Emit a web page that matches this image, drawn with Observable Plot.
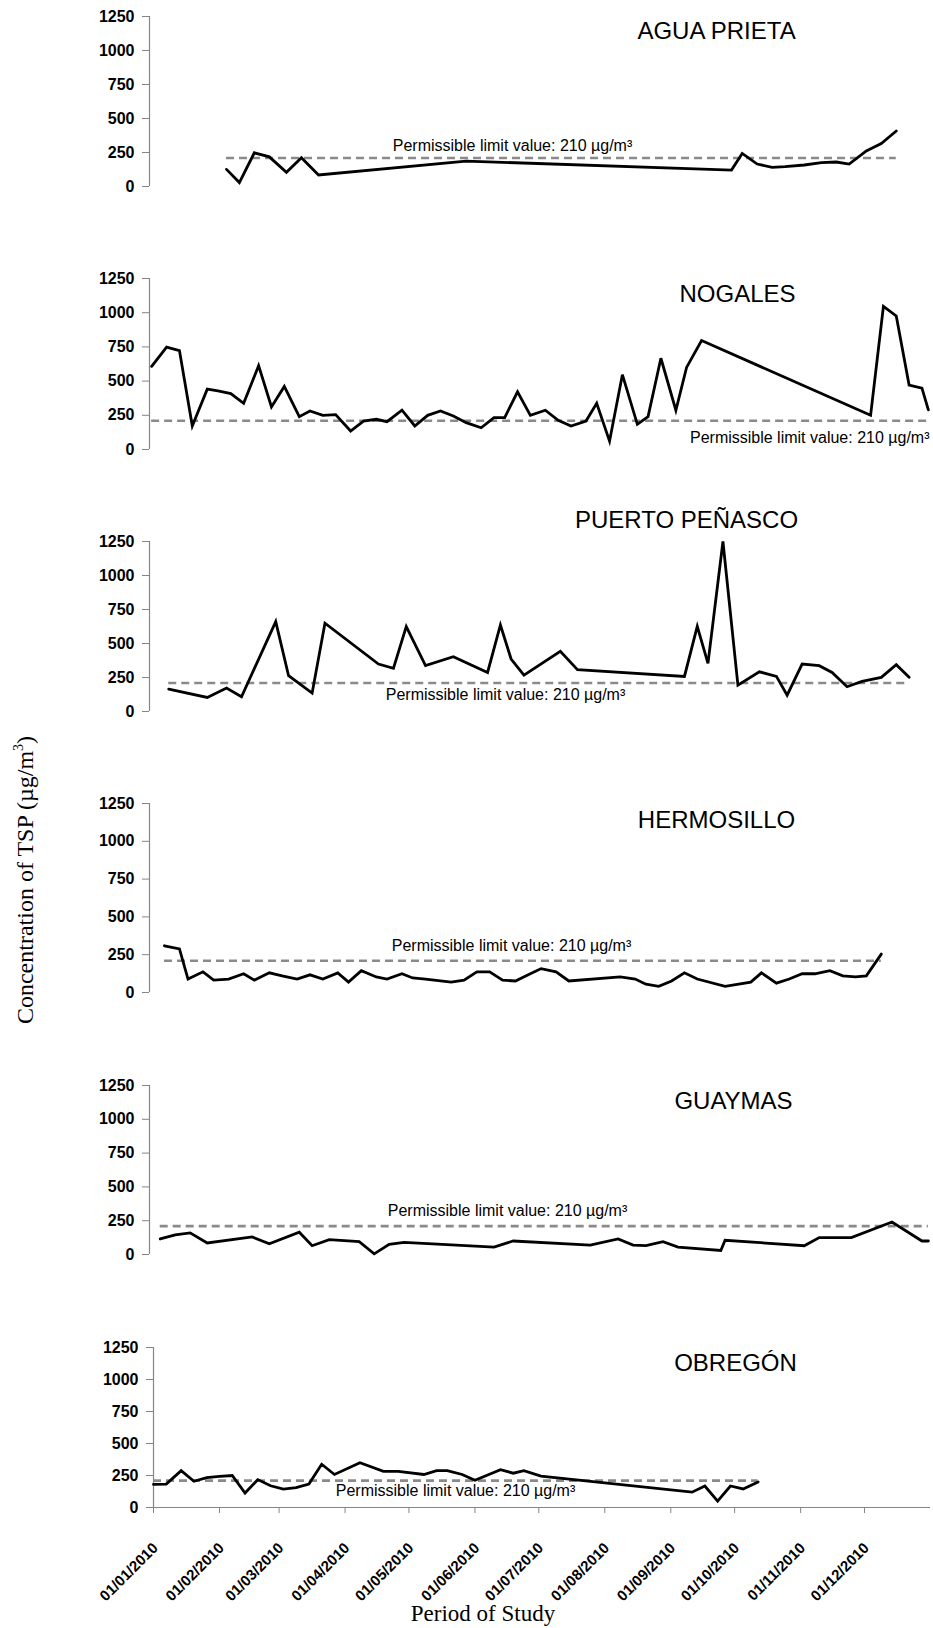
<!DOCTYPE html>
<html><head><meta charset="utf-8">
<script src="https://cdn.jsdelivr.net/npm/d3@7"></script>
<script src="https://cdn.jsdelivr.net/npm/@observablehq/plot@0.6"></script>
<style>
body{margin:0;background:#fff;}
#wrap{position:relative;width:933px;height:1628px;overflow:hidden;background:#fff;}
#wrap svg{position:absolute;left:0;overflow:visible;}
.ttl{position:absolute;font-family:"Liberation Serif","Times New Roman",serif;color:#000;white-space:nowrap;}
</style></head>
<body><div id="wrap"></div>
<script>
// ---------------- DATA ----------------
const cityNames = ["AGUA PRIETA","NOGALES","PUERTO PEÑASCO","HERMOSILLO","GUAYMAS","OBREGÓN"];
const limitValue = 210;
const limitLabel = "Permissible limit value: 210 µg/m³";
const yTicks = [0,250,500,750,1000,1250];
const xTicks = ["2010-01-01","2010-02-01","2010-03-01","2010-04-01","2010-05-01","2010-06-01","2010-07-01","2010-08-01","2010-09-01","2010-10-01","2010-11-01","2010-12-01"];
const xDomain = ["2010-01-01","2011-01-01"];

const aguaPrietaDates = ["2010-02-06","2010-02-12","2010-02-19","2010-02-26","2010-03-06","2010-03-13","2010-03-21","2010-05-29","2010-09-30","2010-10-05","2010-10-12","2010-10-19","2010-10-25","2010-11-03","2010-11-11","2010-11-18","2010-11-24","2010-12-02","2010-12-09","2010-12-16"];
const aguaPrietaTSP = [126,29,248,218,104,211,85,187,121,243,165,141,146,158,175,180,165,262,316,408];

const nogalesDates = ["2010-01-02","2010-01-09","2010-01-15","2010-01-21","2010-01-28","2010-02-02","2010-02-08","2010-02-14","2010-02-21","2010-02-27","2010-03-05","2010-03-12","2010-03-17","2010-03-23","2010-03-29","2010-04-05","2010-04-11","2010-04-17","2010-04-22","2010-04-29","2010-05-05","2010-05-11","2010-05-17","2010-05-23","2010-05-29","2010-06-05","2010-06-11","2010-06-16","2010-06-22","2010-06-28","2010-07-05","2010-07-11","2010-07-17","2010-07-24","2010-07-29","2010-08-04","2010-08-10","2010-08-17","2010-08-22","2010-08-28","2010-09-04","2010-09-09","2010-09-16","2010-12-04","2010-12-10","2010-12-16","2010-12-22","2010-12-28","2010-12-31"];
const nogalesTSP = [608,748,723,172,441,429,409,338,613,311,461,240,282,250,255,135,208,221,203,287,172,250,282,245,196,159,233,233,422,250,287,213,172,208,338,61,547,184,240,667,287,600,797,250,1047,976,471,449,290];

const puertoDates = ["2010-01-10","2010-01-28","2010-02-06","2010-02-13","2010-03-01","2010-03-07","2010-03-18","2010-03-24","2010-04-18","2010-04-25","2010-05-01","2010-05-10","2010-05-23","2010-06-08","2010-06-14","2010-06-19","2010-06-25","2010-07-12","2010-07-20","2010-09-08","2010-09-14","2010-09-19","2010-09-26","2010-10-03","2010-10-13","2010-10-21","2010-10-26","2010-11-02","2010-11-10","2010-11-16","2010-11-23","2010-11-30","2010-12-09","2010-12-16","2010-12-22"];
const puertoTSP = [165,103,172,108,661,263,135,649,349,317,624,337,403,287,636,386,268,442,307,258,626,354,1250,194,292,258,120,349,337,287,182,221,251,344,251];

const hermosilloDates = ["2010-01-08","2010-01-15","2010-01-19","2010-01-26","2010-01-31","2010-02-07","2010-02-14","2010-02-19","2010-02-26","2010-03-04","2010-03-11","2010-03-17","2010-03-23","2010-03-30","2010-04-04","2010-04-10","2010-04-17","2010-04-22","2010-04-29","2010-05-04","2010-05-10","2010-05-22","2010-05-28","2010-06-03","2010-06-09","2010-06-15","2010-06-21","2010-06-28","2010-07-03","2010-07-10","2010-07-16","2010-08-09","2010-08-16","2010-08-21","2010-08-27","2010-09-02","2010-09-08","2010-09-14","2010-09-27","2010-10-09","2010-10-14","2010-10-21","2010-10-27","2010-11-02","2010-11-08","2010-11-15","2010-11-21","2010-11-27","2010-12-02","2010-12-09"];
const hermosilloTSP = [309,288,89,137,82,89,124,82,130,110,89,117,89,130,69,144,103,89,124,96,89,69,82,137,137,82,76,124,158,137,76,103,89,55,41,76,130,89,41,69,130,62,89,124,124,144,110,103,110,254];

const guaymasDates = ["2010-01-06","2010-01-13","2010-01-20","2010-01-28","2010-02-18","2010-02-26","2010-03-12","2010-03-18","2010-03-26","2010-04-09","2010-04-16","2010-04-23","2010-04-30","2010-06-11","2010-06-20","2010-07-26","2010-08-08","2010-08-15","2010-08-21","2010-08-29","2010-09-05","2010-09-25","2010-09-27","2010-11-03","2010-11-10","2010-11-25","2010-12-14","2010-12-28","2010-12-31"];
const guaymasTSP = [115,145,160,85,130,80,165,65,110,95,5,75,90,55,100,70,115,70,65,95,55,30,105,65,125,125,240,100,100];

const obregonDates = ["2010-01-01","2010-01-07","2010-01-14","2010-01-20","2010-01-26","2010-02-01","2010-02-07","2010-02-13","2010-02-19","2010-02-25","2010-03-03","2010-03-09","2010-03-15","2010-03-21","2010-03-27","2010-04-08","2010-04-19","2010-04-26","2010-05-08","2010-05-14","2010-05-19","2010-05-26","2010-06-01","2010-06-13","2010-06-19","2010-06-24","2010-07-02","2010-09-11","2010-09-17","2010-09-23","2010-09-29","2010-10-05","2010-10-12"];
const obregonTSP = [180,183,288,205,233,243,250,113,218,170,143,155,183,338,258,350,283,283,258,288,288,258,213,295,268,288,245,120,168,50,168,145,200];

// ---------------- LAYOUT ----------------
const W = 933;
const axisColor = "#858585";
const sansFont = '"Liberation Sans", Arial, sans-serif';
const panels = [
  {name: cityNames[0], dates: aguaPrietaDates, values: aguaPrietaTSP, top: 16, bottom: 186, ml: 149, titleX: 716, titleY: 31, lab: {anchor:"left", cx: 512, dy: -12}},
  {name: cityNames[1], dates: nogalesDates, values: nogalesTSP, top: 278, bottom: 449, ml: 149, titleX: 737, titleY: 294, lab: {anchor:"right", cx: -1, dy: 17}},
  {name: cityNames[2], dates: puertoDates, values: puertoTSP, top: 541, bottom: 711, ml: 149, titleX: 686, titleY: 520, lab: {anchor:"left", cx: 505, dy: 12}},
  {name: cityNames[3], dates: hermosilloDates, values: hermosilloTSP, top: 803, bottom: 992, ml: 149, titleX: 716, titleY: 820, lab: {anchor:"left", cx: 511, dy: -15}},
  {name: cityNames[4], dates: guaymasDates, values: guaymasTSP, top: 1085, bottom: 1254, ml: 149, titleX: 733, titleY: 1101, lab: {anchor:"left", cx: 507, dy: -15}},
  {name: cityNames[5], dates: obregonDates, values: obregonTSP, top: 1347, bottom: 1507, ml: 153, titleX: 735, titleY: 1363, lab: {anchor:"left", cx: 455, dy: 10}, bottomAxis: true}
];

const wrap = document.getElementById("wrap");
const parse = d3.utcParse("%Y-%m-%d");
const fmt = d3.utcFormat("%d/%m/%Y");

panels.forEach(p => {
  const data = p.dates.map((d, i) => ({date: parse(d), value: p.values[i]}));
  const mt = 50;
  const mb = p.bottomAxis ? 1628 - p.bottom : 12;
  const mr = 3;
  const first = data[0].date, last = data[data.length - 1].date;
  const marks = [
    Plot.ruleX([parse(xDomain[0])], {y1: 0, y2: 1250, stroke: axisColor, strokeWidth: 1.2}),
    Plot.axisY(yTicks, {label: null, tickSize: 7, tickPadding: 8, fontSize: 16, fontWeight: "bold", fontFamily: sansFont, stroke: axisColor, tickFormat: d => String(d), fill: "#000"}),
    Plot.ruleY([limitValue], {x1: () => first, x2: () => last, stroke: "#8a8a8a", strokeWidth: 2.6, strokeDasharray: "8,5"}),
    Plot.line(data, {x: "date", y: "value", stroke: "#000", strokeWidth: 2.8, strokeLinejoin: "miter", strokeMiterlimit: 4}),
    Plot.text([p.name], {frameAnchor: "top-left", dx: p.titleX - p.ml, dy: p.titleY - p.top, textAnchor: "middle", lineAnchor: "middle", fontSize: 24, fontFamily: sansFont, fill: "#000"}),
    p.lab.anchor === "right"
      ? Plot.text([limitLabel], {y: () => limitValue, frameAnchor: "right", dx: p.lab.cx, dy: p.lab.dy, textAnchor: "end", lineAnchor: "middle", fontSize: 16, fontFamily: sansFont, fill: "#000"})
      : Plot.text([limitLabel], {y: () => limitValue, frameAnchor: "left", dx: p.lab.cx - p.ml, dy: p.lab.dy, textAnchor: "middle", lineAnchor: "middle", fontSize: 16, fontFamily: sansFont, fill: "#000"})
  ];
  if (p.bottomAxis) {
    marks.push(Plot.ruleY([0], {stroke: axisColor, strokeWidth: 1.2}));
    marks.push(Plot.axisX(xTicks.map(parse), {label: null, tickSize: 6, stroke: axisColor, tickFormat: () => ""}));
    marks.push(Plot.axisX(xTicks.map(parse), {label: null, tickSize: 0, tickPadding: 28, tickRotate: -45, dx: 2, dy: 10, fontSize: 15, fontWeight: "bold", fontFamily: sansFont, fill: "#000", tickFormat: fmt}));
  }
  const chart = Plot.plot({
    width: W,
    height: mt + (p.bottom - p.top) + mb,
    marginTop: mt, marginBottom: mb, marginLeft: p.ml, marginRight: mr,
    x: {type: "utc", domain: xDomain.map(parse), axis: null},
    y: {domain: [0, 1250], axis: null},
    style: {background: "transparent", overflow: "visible"},
    marks
  });
  chart.style.top = (p.top - mt) + "px";
  wrap.appendChild(chart);
});

const yt = document.createElement("div");
yt.className = "ttl";
yt.style.fontSize = "24px";
yt.innerHTML = "Concentration of TSP (µg/m<sup style='font-size:14px;vertical-align:10px'>3</sup>)";
yt.style.left = "25px";
yt.style.top = "880px";
yt.style.transform = "translate(-50%,-50%) rotate(-90deg)";
wrap.appendChild(yt);

const xt = document.createElement("div");
xt.className = "ttl";
xt.style.fontSize = "23px";
xt.textContent = "Period of Study";
xt.style.left = "483px";
xt.style.top = "1614px";
xt.style.transform = "translate(-50%,-50%)";
wrap.appendChild(xt);
</script>
</body></html>
